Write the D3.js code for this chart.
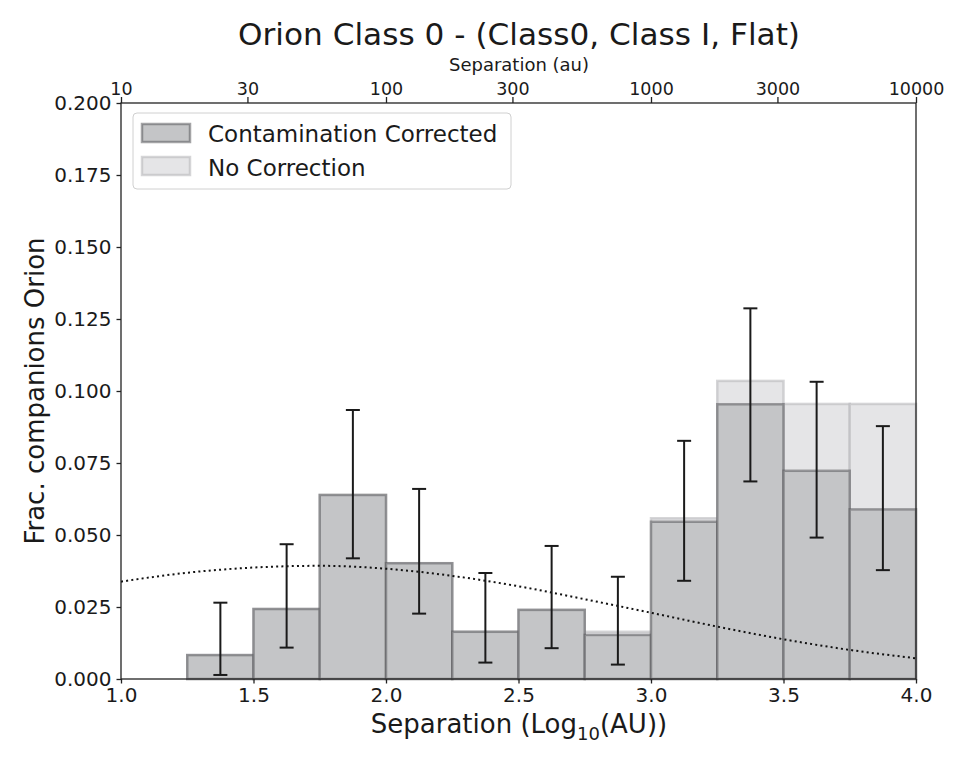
<!DOCTYPE html>
<html><head><meta charset="utf-8">
<script src="https://cdn.jsdelivr.net/npm/d3@7"></script>
<style>body{margin:0;background:#fff;} text{font-family:"DejaVu Sans",sans-serif;fill:#1a1a1a;}</style>
</head><body>
<svg id="c" width="965" height="763"></svg>
<script>
// bin left edges (log10 AU), width 0.25
const binStarts = [1.0,1.25,1.5,1.75,2.0,2.25,2.5,2.75,3.0,3.25,3.5,3.75];
const binWidth = 0.25;
const corrected = [0.0,0.0083,0.0243,0.0639,0.0402,0.0164,0.024,0.0153,0.0546,0.0954,0.0723,0.0589];
const noCorrection = [0.0,0.0083,0.0243,0.0639,0.0402,0.0164,0.024,0.0164,0.0558,0.1035,0.0955,0.0955];
const errLow  = [null,0.0014,0.0109,0.0419,0.0227,0.0057,0.0107,0.0050,0.0341,0.0686,0.0491,0.0378];
const errHigh = [null,0.0265,0.0468,0.0934,0.0660,0.0368,0.0462,0.0355,0.0827,0.1287,0.1032,0.0878];
const curveX = [1.0,1.25,1.5,1.75,2.0,2.25,2.5,2.75,3.0,3.25,3.5,3.75,4.0];
const curveY = [0.0338,0.0369,0.0387,0.0393,0.0383,0.0358,0.0322,0.0277,0.0230,0.0182,0.0138,0.0101,0.0072];
const yTicks = [0,0.025,0.05,0.075,0.1,0.125,0.15,0.175,0.2];
const xTicks = [1.0,1.5,2.0,2.5,3.0,3.5,4.0];
const topTicks = [10,30,100,300,1000,3000,10000];

const svg = d3.select("#c");
const L=121,R=916,T=103,B=679;
const x = d3.scaleLinear().domain([1,4]).range([L,R]);
const xTop = d3.scaleLog().domain([10,10000]).range([L,R]);
const y = d3.scaleLinear().domain([0,0.2]).range([B,T]);

// no correction bars
svg.append("g").selectAll("rect").data(binStarts).join("rect")
  .attr("x",d=>x(d)).attr("width",d=>x(d+binWidth)-x(d))
  .attr("y",(d,i)=>y(noCorrection[i])).attr("height",(d,i)=>y(0)-y(noCorrection[i]))
  .attr("fill","#e5e5e7").attr("stroke","rgba(185,185,188,0.6)").attr("stroke-width",2.5);
// corrected bars
svg.append("g").selectAll("rect").data(binStarts).join("rect")
  .attr("x",d=>x(d)).attr("width",d=>x(d+binWidth)-x(d))
  .attr("y",(d,i)=>y(corrected[i])).attr("height",(d,i)=>y(0)-y(corrected[i]))
  .attr("fill","#c4c5c7").attr("stroke","rgba(90,90,92,0.55)").attr("stroke-width",2.5);

// dotted curve
svg.append("path").datum(curveX.map((v,i)=>[v,curveY[i]]))
  .attr("d",d3.line().x(d=>x(d[0])).y(d=>y(d[1])).curve(d3.curveMonotoneX))
  .attr("fill","none").attr("stroke","#111").attr("stroke-width",2).attr("stroke-dasharray","2,3.2");

// error bars
const eb = svg.append("g").attr("stroke","#1a1a1a").attr("stroke-width",2);
binStarts.forEach((b,i)=>{
  if(errLow[i]===null) return;
  const cx = x(b+binWidth/2);
  eb.append("line").attr("x1",cx).attr("x2",cx).attr("y1",y(errLow[i])).attr("y2",y(errHigh[i]));
  [errLow[i],errHigh[i]].forEach(v=>eb.append("line").attr("x1",cx-7).attr("x2",cx+7).attr("y1",y(v)).attr("y2",y(v)));
});

// frame
svg.append("rect").attr("x",L).attr("y",T).attr("width",R-L).attr("height",B-T)
  .attr("fill","none").attr("stroke","#222").attr("stroke-width",1.3);

function styleAxis(g,fs){
  g.select(".domain").remove();
  g.selectAll(".tick line").attr("stroke","#222").attr("stroke-width",1.3);
  g.selectAll(".tick text").style("font-size",fs+"px").attr("fill","#1a1a1a");
}
const gx = svg.append("g").attr("transform",`translate(0,${B})`)
  .call(d3.axisBottom(x).tickValues(xTicks).tickFormat(d3.format(".1f")).tickSize(4.5).tickPadding(4.5));
styleAxis(gx,20);
const gy = svg.append("g").attr("transform",`translate(${L},0)`)
  .call(d3.axisLeft(y).tickValues(yTicks).tickFormat(d3.format(".3f")).tickSize(4.5).tickPadding(5));
styleAxis(gy,20);
const gt = svg.append("g").attr("transform",`translate(0,${T})`)
  .call(d3.axisTop(xTop).tickValues(topTicks).tickFormat(d3.format("d")).tickSize(6).tickPadding(2));
styleAxis(gt,17.5);

// labels
svg.append("text").attr("x",519).attr("y",45).attr("text-anchor","middle")
  .style("font-size","30px").attr("textLength",562).attr("lengthAdjust","spacingAndGlyphs")
  .text("Orion Class 0 - (Class0, Class I, Flat)");
svg.append("text").attr("x",519).attr("y",71).attr("text-anchor","middle").style("font-size","18px").text("Separation (au)");
const xl = svg.append("text").attr("x",519).attr("y",733).attr("text-anchor","middle").style("font-size","26px");
xl.append("tspan").text("Separation (Log");
xl.append("tspan").attr("dy",7).style("font-size","18px").text("10");
xl.append("tspan").attr("dy",-7).text("(AU))");
svg.append("text").attr("transform","translate(44,391) rotate(-90)").attr("text-anchor","middle")
  .style("font-size","26px").text("Frac. companions Orion");

// legend
const lg = svg.append("g");
lg.append("rect").attr("x",133).attr("y",113).attr("width",378).attr("height",76).attr("rx",4)
  .attr("fill","#fff").attr("fill-opacity",0.8).attr("stroke","#d0d0d0").attr("stroke-width",1);
lg.append("rect").attr("x",142).attr("y",124).attr("width",48).attr("height",18)
  .attr("fill","#c4c5c7").attr("stroke","rgba(90,90,92,0.55)").attr("stroke-width",2.5);
lg.append("rect").attr("x",142).attr("y",157).attr("width",48).attr("height",18)
  .attr("fill","#e5e5e7").attr("stroke","rgba(185,185,188,0.6)").attr("stroke-width",2.5);
lg.append("text").attr("x",208).attr("y",142).style("font-size","23px").text("Contamination Corrected");
lg.append("text").attr("x",208).attr("y",176).style("font-size","23px").text("No Correction");
</script>
</body></html>
